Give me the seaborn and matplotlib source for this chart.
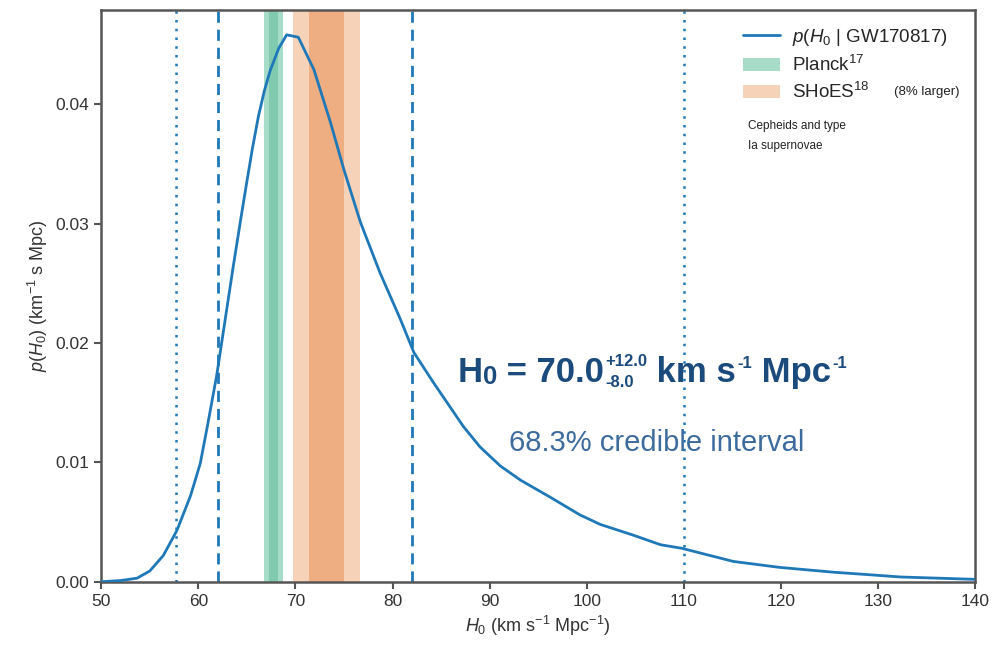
import numpy as np
import pandas as pd
import matplotlib
matplotlib.use("Agg")
import matplotlib.pyplot as plt
import seaborn as sns

# posterior p(H0 | GW170817)
h0 = [50.0, 52.0, 53.7, 55.0, 56.4, 57.8, 59.2, 60.2, 61.0, 61.9, 62.2, 63.0, 63.6, 64.3,
      65.0, 65.6, 66.2, 66.8, 67.4, 68.3, 69.1, 70.3, 71.9, 73.6, 75.0, 76.7, 78.7, 80.8,
      82.2, 84.2, 87.3, 89.0, 91.1, 93.2, 96.2, 99.3, 101.4, 104.8, 107.6, 109.8, 115.1,
      119.9, 125.4, 128.9, 132.3, 140.0]
density = [0.0, 0.0001, 0.0003, 0.0009, 0.0022, 0.0043, 0.0072, 0.0099, 0.0133, 0.0173,
           0.0189, 0.0232, 0.0264, 0.0300, 0.0335, 0.0364, 0.0390, 0.0411, 0.0428, 0.0447,
           0.0458, 0.0456, 0.0429, 0.0385, 0.0345, 0.0301, 0.0259, 0.0220, 0.0192, 0.0167,
           0.0130, 0.0113, 0.0097, 0.0085, 0.0071, 0.0056, 0.0048, 0.0039, 0.0031, 0.0028,
           0.0017, 0.0012, 0.0008, 0.0006, 0.0004, 0.0002]

# credible interval lines
dashed_lines = [62.0, 82.0]   # 68.3%
dotted_lines = [57.7, 110.0]  # 95%

# bands (2 sigma outer, 1 sigma inner)
planck_outer = (66.8, 68.7)
planck_inner = (67.3, 68.2)
shoes_outer = (69.8, 76.7)
shoes_inner = (71.4, 75.0)

blue = "#1f78b8"
navy = "#1b4a7d"

df = pd.DataFrame({"H0": h0, "p": density})

sns.set_style("ticks")
plt.rcParams["font.family"] = ["Liberation Sans", "DejaVu Sans"]
plt.rcParams["mathtext.fontset"] = "custom"
plt.rcParams["mathtext.rm"] = "Liberation Sans"
plt.rcParams["mathtext.it"] = "Liberation Sans:italic"
plt.rcParams["mathtext.bf"] = "Liberation Sans:bold"

fig = plt.figure(figsize=(9.92, 6.5), dpi=100)
ax = fig.add_axes([0.102, 0.105, 0.881, 0.88])

# bands
ax.axvspan(*planck_outer, color="#a6dcc8", lw=0, label="Planck$^{17}$")
ax.axvspan(*planck_inner, color="#80cbb0", lw=0)
ax.axvspan(*shoes_outer, color="#f6d3b8", lw=0, label="SHoES$^{18}$")
ax.axvspan(*shoes_inner, color="#eeae82", lw=0)

curve_label = r"$p(H_0$ | GW170817)"
sns.lineplot(data=df, x="H0", y="p", ax=ax, color=blue, lw=2,
             label=curve_label, zorder=5)

for v in dashed_lines:
    ax.axvline(v, color=blue, ls=(0, (4, 2.5)), lw=2)
for v in dotted_lines:
    ax.axvline(v, color=blue, ls=(0, (1, 2.5)), lw=1.8)

ax.set_xlim(50, 140)
ax.set_ylim(0, 0.0479)
ax.set_xticks(range(50, 141, 10))
ax.set_yticks([0, 0.01, 0.02, 0.03, 0.04])
ax.yaxis.set_major_formatter(matplotlib.ticker.FormatStrFormatter("%.2f"))
ax.tick_params(labelsize=12.5, color="#555555", width=1.5, length=5, labelcolor="#333333")
for s in ax.spines.values():
    s.set_color("#555555")
    s.set_linewidth(1.8)

ax.set_xlabel(r"$H_0$ (km s$^{-1}$ Mpc$^{-1}$)", fontsize=13, color="#333333")
ax.set_ylabel(r"$p(H_0)$ (km$^{-1}$ s Mpc)", fontsize=13, color="#333333")

# legend: curve first, then bands
handles, labels = ax.get_legend_handles_labels()
order = [labels.index(l) for l in [curve_label, "Planck$^{17}$", "SHoES$^{18}$"]]
ax.legend([handles[i] for i in order], [labels[i] for i in order],
          loc="upper left", bbox_to_anchor=(0.715, 1.0), frameon=False,
          fontsize=13.5, labelspacing=0.38, handlelength=2.0, handletextpad=0.6)

ax.text(0.907, 0.857, "(8% larger)", transform=ax.transAxes, fontsize=9.5,
        va="center", ha="left", color="#222222")
ax.text(0.740, 0.808, "Cepheids and type\nIa supernovae", transform=ax.transAxes,
        fontsize=8.5, va="top", ha="left", color="#222222", linespacing=1.9)

# H0 = 70.0 +12.0 -8.0 km s-1 Mpc-1, built piece by piece
base_y = 0.350
first = ax.text(0.408, base_y, "H", transform=ax.transAxes, fontsize=25,
                fontweight="bold", color=navy, va="baseline", ha="left")


def put(txt, after, size, rise, gap=0):
    return ax.annotate(txt, xy=(1, base_y), xycoords=(after, ax.transAxes),
                       xytext=(gap, rise), textcoords="offset points",
                       fontsize=size, fontweight="bold", color=navy,
                       va="baseline", ha="left")


sub0 = put("0", first, 18.5, -1.5)
val = put(" = 70.0", sub0, 25, 0)
sup = put("+12.0", val, 12, 11.5, 1)
put("-8.0", val, 12, -4, 1)
km = put(" km s", sup, 25, 0)
e1 = put("-1", km, 12, 10, 1)
mpc = put(" Mpc", e1, 25, 0)
put("-1", mpc, 12, 10, 1)

ax.text(0.636, 0.243, "68.3% credible interval", transform=ax.transAxes,
        fontsize=21, color="#3d6b9e", ha="center", va="center")

plt.savefig("out.png", dpi=100)
